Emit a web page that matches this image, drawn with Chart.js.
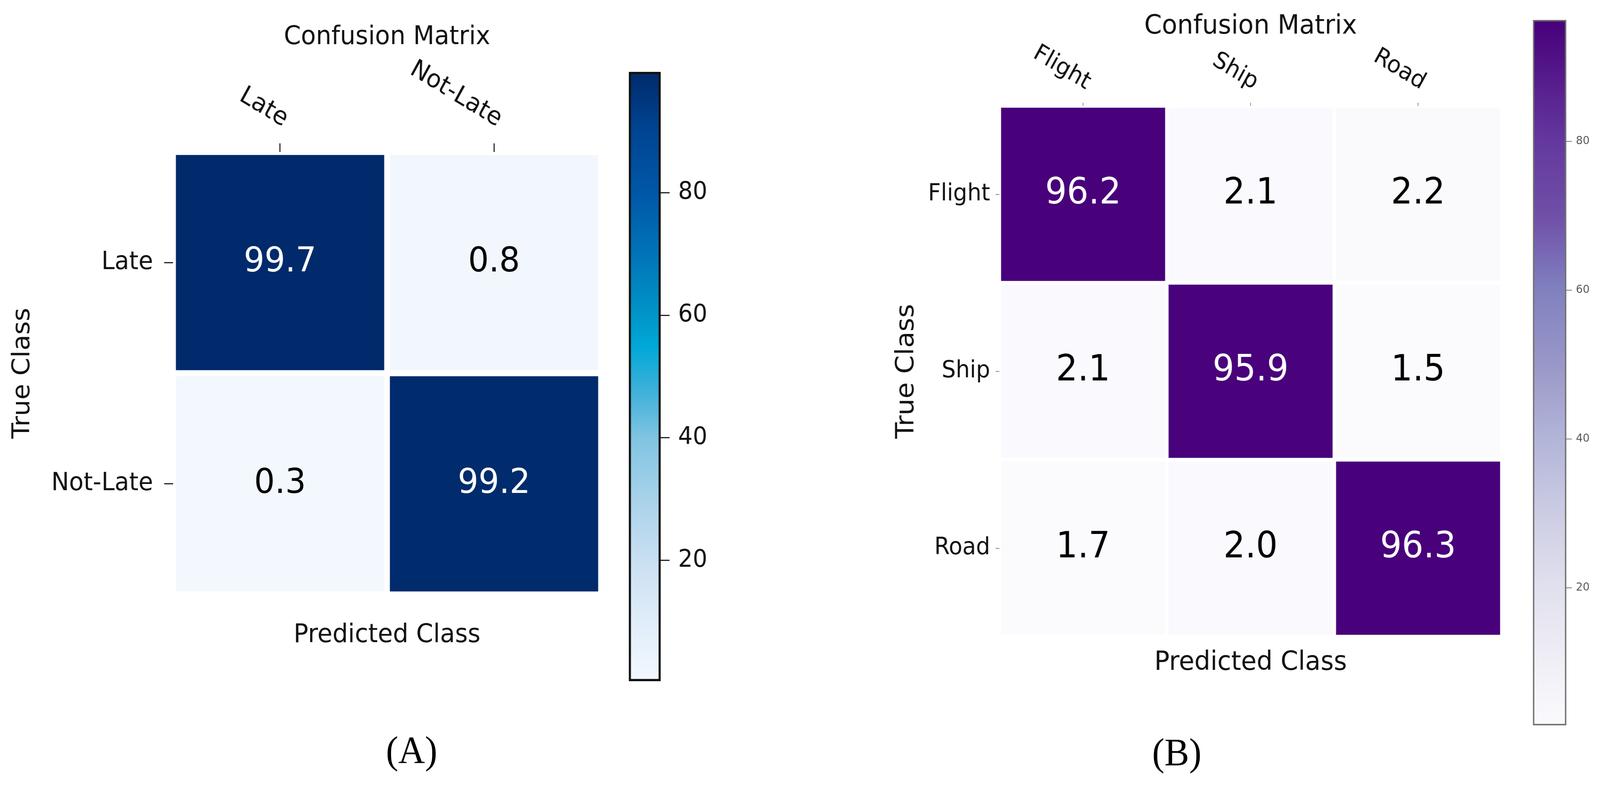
<!DOCTYPE html>
<html>
<head>
<meta charset="utf-8">
<title>Confusion matrices</title>
<script src="https://cdn.jsdelivr.net/npm/chart.js@4.4.1/dist/chart.umd.min.js"></script>
<style>
  html, body { margin: 0; padding: 0; background: #ffffff; overflow: hidden; }
  #page { width: 4318px; height: 2020px; position: absolute; left: 0; top: 0; transform-origin: 0 0; }
  canvas { position: absolute; }
  .caption {
    position: absolute; width: 400px; text-align: center;
    font-family: "Liberation Serif", serif; font-size: 100px; line-height: 100px; color: #000;
  }
</style>
</head>
<body>
<div id="page">
  <canvas id="heatA" width="1660" height="1720" style="left:0px;top:0px"></canvas>
  <canvas id="barA" width="240" height="1700" style="left:1690px;top:114px"></canvas>
  <canvas id="heatB" width="1700" height="1780" style="left:2400px;top:0px"></canvas>
  <canvas id="barB" width="188" height="1900" style="left:4130px;top:0px"></canvas>
  <div class="caption" style="left:911px;top:1871px">(A)</div>
  <div class="caption" style="left:2976px;top:1876px">(B)</div>
</div>

<script>
// ---- data ----
const lateClasses = ["Late", "Not-Late"];
const lateValues = [
  [99.7, 0.8],
  [0.3, 99.2],
];
const modeClasses = ["Flight", "Ship", "Road"];
const modeValues = [
  [96.2, 2.1, 2.2],
  [2.1, 95.9, 1.5],
  [1.7, 2.0, 96.3],
];
const colorbarTicks = [20, 40, 60, 80];

// ---- colour maps (as they look in the picture) ----
const bluesMap = [
  [0.00, "#f3f8fe"], [0.09, "#e2eefa"], [0.20, "#c9dff2"], [0.30, "#a8d2ea"],
  [0.40, "#80c4e2"], [0.47, "#44b2da"], [0.55, "#00a8d8"], [0.60, "#0096c8"],
  [0.70, "#0074b8"], [0.80, "#0058a8"], [0.91, "#004390"], [1.00, "#002a6b"],
];
const purplesMap = [
  [0.00, "#fbfafd"], [0.09, "#f0eff6"], [0.20, "#e0e0ee"], [0.30, "#cccde4"],
  [0.41, "#b2b4d8"], [0.51, "#9a98c8"], [0.62, "#8080c0"], [0.72, "#7050a8"],
  [0.83, "#64389e"], [1.00, "#48007b"],
];

const FONT = "DejaVu Sans";
const TEXT = "#111111";

// the layout is drawn for 4318x2020; stretch it onto the real viewport
const page = document.getElementById("page");
const sx = document.documentElement.clientWidth / 4318;
const sy = document.documentElement.clientHeight / 2020;
if (Math.abs(sx - 1) > 0.002 || Math.abs(sy - 1) > 0.002) {
  page.style.transform = `scale(${sx}, ${sy})`;
}

function hexRgb(h) {
  return [1, 3, 5].map((i) => parseInt(h.slice(i, i + 2), 16));
}

function colorAt(map, t) {
  t = Math.min(1, Math.max(0, t));
  for (let k = 1; k < map.length; k++) {
    if (t <= map[k][0]) {
      const [t0, c0] = map[k - 1];
      const [t1, c1] = map[k];
      const f = (t - t0) / (t1 - t0);
      const a = hexRgb(c0);
      const b = hexRgb(c1);
      return `rgb(${a.map((x, i) => Math.round(x + (b[i] - x) * f)).join(",")})`;
    }
  }
  return map[map.length - 1][1];
}

// titles, rotated column labels and the numbers inside the cells
function heatLabels(cfg) {
  return {
    id: "heatLabels",
    afterDraw(chart) {
      const { ctx, chartArea } = chart;
      const xScale = chart.scales.x;
      const cx = (chartArea.left + chartArea.right) / 2;
      ctx.save();
      ctx.fillStyle = TEXT;
      ctx.textAlign = "center";
      ctx.textBaseline = "alphabetic";
      ctx.font = `${cfg.titleSize}px "${FONT}"`;
      ctx.fillText("Confusion Matrix", cx, cfg.titleY);
      ctx.fillText("Predicted Class", cx, cfg.xTitleY);

      ctx.font = `${cfg.labelSize}px "${FONT}"`;
      ctx.textAlign = "right";
      ctx.textBaseline = "bottom";
      cfg.classes.forEach((label, j) => {
        ctx.save();
        ctx.translate(xScale.getPixelForValue(j), chartArea.top - cfg.labelGap);
        ctx.rotate(Math.PI / 6);
        ctx.fillText(label, 0, 0);
        ctx.restore();
      });

      ctx.font = `${cfg.valueSize}px "${FONT}"`;
      ctx.textAlign = "center";
      ctx.textBaseline = "middle";
      cfg.values.forEach((row, i) => {
        chart.getDatasetMeta(i).data.forEach((bar, j) => {
          const v = row[j];
          ctx.fillStyle = v > cfg.vmax / 2 ? "#ffffff" : "#000000";
          ctx.fillText(v.toFixed(1), bar.x, (bar.y + bar.base) / 2);
        });
      });
      ctx.restore();
    },
  };
}

function heatChart(id, cfg) {
  const flat = cfg.values.flat();
  cfg.vmin = Math.min(...flat);
  cfg.vmax = Math.max(...flat);
  const n = cfg.classes.length;
  return new Chart(document.getElementById(id), {
    type: "bar",
    data: {
      labels: cfg.classes,
      datasets: cfg.values.map((row, i) => ({
        data: row.map(() => [i, i + 1]),
        backgroundColor: row.map((v) => colorAt(cfg.map, (v - cfg.vmin) / (cfg.vmax - cfg.vmin))),
        borderColor: "#ffffff",
        borderWidth: cfg.gap,
        borderSkipped: false,
        grouped: false,
        barPercentage: 1,
        categoryPercentage: 1,
      })),
    },
    options: {
      responsive: false,
      animation: false,
      events: [],
      layout: { padding: cfg.padding },
      plugins: { legend: { display: false }, tooltip: { enabled: false } },
      scales: {
        x: {
          position: "top",
          offset: true,
          border: { display: false },
          ticks: { display: false },
          grid: {
            offset: false,
            drawOnChartArea: false,
            tickLength: cfg.xTickLength,
            color: cfg.tickColor,
            lineWidth: cfg.tickWidth,
          },
          afterFit: (s) => { s.height = cfg.xAxisHeight; },
        },
        y: {
          type: "linear",
          min: 0,
          max: n,
          reverse: true,
          border: { display: false },
          afterBuildTicks: (s) => {
            s.ticks = cfg.classes.map((_, i) => ({ value: i + 0.5 }));
          },
          ticks: {
            callback: (v, i) => cfg.classes[i],
            font: { family: FONT, size: cfg.labelSize },
            color: TEXT,
            padding: cfg.yTickPadding,
          },
          grid: {
            drawOnChartArea: false,
            tickLength: cfg.yTickLength,
            color: cfg.tickColor,
            lineWidth: cfg.tickWidth,
          },
          title: {
            display: true,
            text: "True Class",
            color: TEXT,
            font: { family: FONT, size: cfg.titleSize },
            padding: { top: cfg.yTitlePad, bottom: 0 },
          },
          afterFit: (s) => { s.width = cfg.yAxisWidth; },
        },
      },
    },
    plugins: [heatLabels(cfg)],
  });
}

function colorBar(id, cfg) {
  return new Chart(document.getElementById(id), {
    type: "bar",
    data: {
      labels: [""],
      datasets: [{
        data: [[cfg.vmin, cfg.vmax]],
        backgroundColor: (context) => {
          const area = context.chart.chartArea;
          if (!area) return "transparent";
          const g = context.chart.ctx.createLinearGradient(0, area.bottom, 0, area.top);
          cfg.map.forEach(([t, c]) => g.addColorStop(t, c));
          return g;
        },
        borderColor: cfg.borderColor,
        borderWidth: cfg.borderWidth,
        borderSkipped: false,
        barPercentage: 1,
        categoryPercentage: 1,
      }],
    },
    options: {
      responsive: false,
      animation: false,
      events: [],
      layout: { padding: cfg.padding },
      plugins: { legend: { display: false }, tooltip: { enabled: false } },
      scales: {
        x: { display: false },
        y: {
          position: "right",
          min: cfg.vmin,
          max: cfg.vmax,
          border: { display: false },
          afterBuildTicks: (s) => {
            s.ticks = colorbarTicks.map((v) => ({ value: v }));
          },
          ticks: {
            font: { family: FONT, size: cfg.fontSize },
            color: cfg.textColor,
            padding: cfg.tickPadding,
          },
          grid: {
            drawOnChartArea: false,
            tickLength: cfg.tickLength,
            color: cfg.tickColor,
            lineWidth: cfg.tickWidth,
          },
          afterFit: (s) => { s.width = cfg.axisWidth; },
        },
      },
    },
  });
}

// ---- panel A ----
const cfgA = {
  classes: lateClasses, values: lateValues, map: bluesMap,
  gap: 8, padding: { left: 0, top: 0, right: 38, bottom: 198 },
  yAxisWidth: 467, xAxisHeight: 389,
  xTickLength: 22, yTickLength: 24, tickColor: "#222222", tickWidth: 3,
  yTickPadding: 30, labelSize: 64, labelGap: 51,
  titleSize: 66, titleY: 113, xTitleY: 1644, yTitlePad: 22,
  valueSize: 88,
};
heatChart("heatA", cfgA);
colorBar("barA", {
  vmin: cfgA.vmin, vmax: cfgA.vmax, map: bluesMap,
  borderColor: "#111111", borderWidth: 6,
  padding: { left: 7, top: 70, right: 7, bottom: 70 }, axisWidth: 140,
  fontSize: 62, textColor: TEXT, tickPadding: 23,
  tickLength: 24, tickColor: "#222222", tickWidth: 3,
});

// ---- panel B ----
const cfgB = {
  classes: modeClasses, values: modeValues, map: purplesMap,
  gap: 5, padding: { left: 0, top: 0, right: 47, bottom: 150 },
  yAxisWidth: 297, xAxisHeight: 271,
  xTickLength: 8, yTickLength: 10, tickColor: "#888888", tickWidth: 2,
  yTickPadding: 15, labelSize: 60, labelGap: 29,
  titleSize: 68, titleY: 86, xTitleY: 1715, yTitlePad: 7,
  valueSize: 92,
};
heatChart("heatB", cfgB);
colorBar("barB", {
  vmin: cfgB.vmin, vmax: cfgB.vmax, map: purplesMap,
  borderColor: "#707070", borderWidth: 4,
  padding: { left: 7, top: 51, right: 3, bottom: 43 }, axisWidth: 88,
  fontSize: 29, textColor: "#555555", tickPadding: 11,
  tickLength: 15, tickColor: "#777777", tickWidth: 2,
});
</script>
</body>
</html>
